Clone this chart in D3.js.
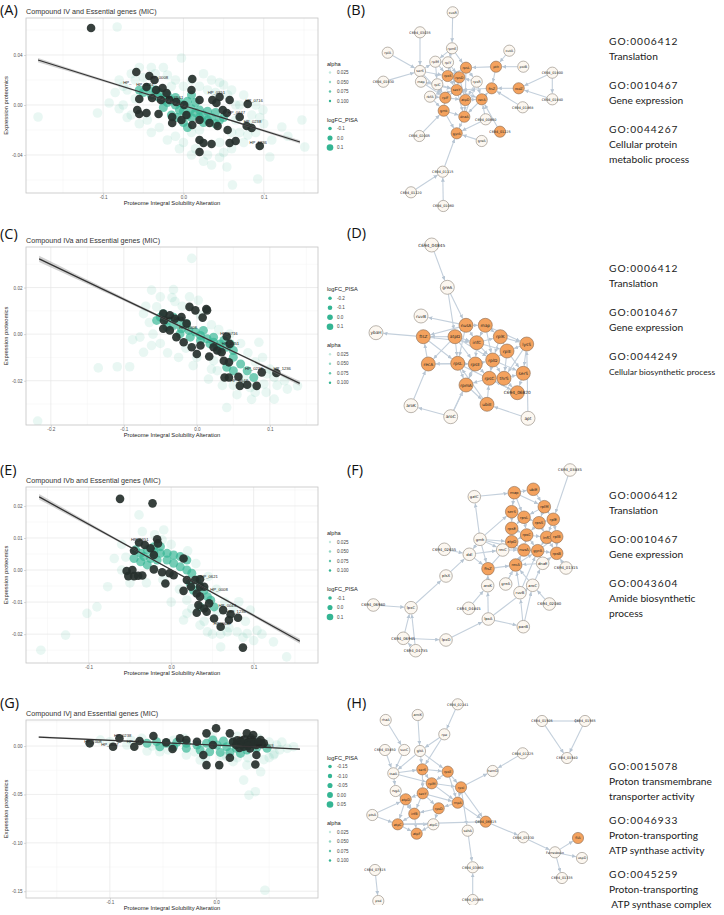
<!DOCTYPE html>
<html><head><meta charset="utf-8">
<script src="https://cdn.jsdelivr.net/npm/d3@7"></script>
<style>body{margin:0;background:#fff}svg{display:block}</style>
</head><body>
<svg id="c" width="724" height="915"></svg>
<script>
// ---------------- DATA ----------------
const titles = ["Compound IV and Essential genes (MIC)","Compound IVa and Essential genes (MIC)","Compound IVb and Essential genes (MIC)","Compound IVj and Essential genes (MIC)"];
const xAxisTitle = "Proteome Integral Solubility Alteration";
const yAxisTitle = "Expression proteomics";
const alphaVals = ["0.025","0.050","0.075","0.100"];

// Panel A
const aXTicks=[-0.1,0,0.1], aXLab=["-0.1","0.0","0.1"], aYTicks=[-0.04,0,0.04], aYLab=["-0.04","0.00","0.04"];
const aLogFC=["-0.1","0.0","0.1"];
const aFit=[[-0.181,0.036,0.0017],[0,-0.0004,0.0005],[0.145,-0.0296,0.0014]];
const aFaint=[[-0.0825,0.0624],[-0.181,-0.0096],[-0.107,-0.0064],[-0.0925,0.0016],[-0.0025,0.0376],[0.061,-0.064],[0.0925,-0.0592],[0.054,-0.0496],[0.1075,-0.0416],[0.1225,-0.0176],[0.099,-0.004],[0.1475,-0.012],[0.151,-0.0336],[0.08,-0.024],[0.065,-0.012],[0.07,0.0],[0.05,0.016],[0.035,0.02],[0.025,0.025],[-0.02,0.024],[-0.04,0.03],[-0.06,0.02],[-0.07,0.012],[-0.075,0.0],[-0.065,-0.008],[-0.045,-0.012],[-0.03,-0.018],[-0.01,-0.025],[0.0,-0.03],[0.015,-0.035],[0.03,-0.04],[0.045,-0.03],[0.06,-0.022],[0.075,-0.03],[0.09,-0.022],[0.11,-0.028],[0.13,-0.025],[0.04,0.01],[-0.05,0.022],[0.02,0.015],[0.055,0.008],[0.085,-0.008],[0.1,-0.015],[-0.015,0.015],[0.01,-0.022],[-0.085,0.01],[0.035,-0.048],[0.045,-0.042],
 [-0.08,0.02],[-0.075,0.015],[-0.065,0.025],[-0.055,0.03],[-0.035,0.025],[-0.025,0.03],[-0.01,0.02],[0.0,0.015],[0.01,0.02],[0.03,0.012],[0.045,0.018],[0.06,0.012],[0.075,0.008],[0.09,0.0],[0.095,-0.01],[0.08,-0.015],[0.07,-0.022],[0.06,-0.035],[0.05,-0.038],[0.025,-0.045],[0.01,-0.04],[-0.005,-0.035],[-0.02,-0.028],[-0.04,-0.022],[-0.055,-0.015],[-0.07,-0.01],[-0.08,-0.003],[-0.06,0.005],[0.065,0.0],[0.02,-0.02]];
const aCore=[[-0.055,0.012],[-0.05,0.01],[-0.045,0.014],[-0.04,0.008],[-0.035,0.012],[-0.03,0.006],[-0.03,0.01],[-0.025,0.004],[-0.02,0.008],[-0.02,0.002],[-0.015,0.004],[-0.01,0.0],[-0.01,0.006],[-0.005,0.002],[-0.005,-0.004],[0,0],[0,-0.005],[0.005,0.003],[0.005,-0.008],[0.01,-0.003],[0.01,-0.01],[0.015,-0.006],[0.015,0.002],[0.02,-0.01],[0.02,-0.004],[0.025,-0.008],[0.025,-0.014],[0.03,-0.005],[0.03,-0.012],[0.035,-0.01],[0.04,-0.006],[0.04,-0.015],[0.045,-0.012],[0.05,-0.01],[-0.008,-0.01],[0.0,-0.014],[0.005,-0.018],[-0.015,-0.008],[0.01,0.008],[-0.025,-0.002]];
const aDark=[[-0.115,0.0616],[-0.0587,0.0264],[-0.0425,0.0232],[-0.036,0.02],[0.011,0.0208],[-0.055,0.0048],[-0.0575,-0.004],[-0.055,-0.0072],[-0.046,-0.0064],[-0.031,-0.0072],[-0.014,-0.0144],[0.01,0.012],[0.02,0.004],[0.036,0.004],[0.045,0.0064],[0.0575,0.004],[0.08,0.0008],[0.07,-0.0096],[0.02,-0.012],[0.0325,-0.0144],[0.0425,-0.0168],[0.055,-0.02],[0.0787,-0.0168],[0.085,-0.0184],[0.02,-0.028],[0.025,-0.0304],[0.035,-0.0312],[0.02,-0.0376],[0.0575,-0.0304],[0.065,-0.0288],[0.095,-0.0328],[-0.046,0.0144],[-0.034,0.012],[-0.026,0.0136],[-0.021,0.0096],[-0.039,0.0056],[-0.028,0.004],[-0.0175,0.004],[-0.009,0.0024],[0.001,0],[0.0037,-0.008],[-0.014,-0.0096],[-0.0025,-0.012],[0.011,-0.016],[0.041,0.0016],[0.049,-0.004],[0.054,-0.0064]];
const aLabels=[["HP_0008",-0.03,0.021],["HP_",-0.07,0.0168],["HP_0124",-0.048,0.015],["HP_0351",0.041,0.0085],["HP_0716",0.088,0.0028],["HP_0647",0.066,-0.0068],["HP_0238",0.086,-0.0145],["HP_0561",-0.011,0.0045],["HP_1236",0.093,-0.031]];

// Panel C
const cXTicks=[-0.2,-0.1,0,0.1], cXLab=["-0.2","-0.1","0.0","0.1"], cYTicks=[-0.02,0,0.02], cYLab=["-0.02","0.00","0.02"];
const cLogFC=["-0.2","-0.1","0.0","0.1"];
const cFit=[[-0.216,0.0323,0.0013],[0,0.0,0.0003],[0.141,-0.0211,0.001]];
const cFaint=[[-0.007,0.0325],[-0.062,0.0189],[-0.032,0.0191],[-0.05,0.016],[-0.034,0.0157],[0.002,0.0145],[-0.135,-0.0145],[-0.109,-0.014],[-0.092,-0.014],[-0.088,-0.0024],[-0.078,-0.0013],[-0.073,-0.0078],[-0.062,-0.0049],[-0.005,-0.0135],[0.016,-0.0193],[0.041,-0.0315],[0.096,-0.0171],[0.085,-0.0035],[0.106,-0.0279],[0.124,-0.0236],[0.138,-0.0222],[0.106,-0.0186],[-0.218,-0.0373],[0.073,-0.0229],[0.06,-0.0214],[0.092,-0.0214],[0.028,-0.0157],[0.023,-0.0114],[-0.055,0.0117],[-0.073,0.0088],[0.065,-0.019],[0.05,-0.022],[0.08,-0.025],
 [-0.07,0.012],[-0.065,0.005],[-0.06,0.0],[-0.05,-0.004],[-0.04,-0.008],[-0.03,0.014],[-0.02,0.012],[-0.01,0.016],[0.005,0.008],[0.02,0.004],[0.03,0.002],[0.045,0.0],[0.06,-0.004],[0.07,-0.008],[0.08,-0.012],[0.09,-0.01],[0.1,-0.015],[0.11,-0.022],[0.12,-0.02],[0.095,-0.025],[0.075,-0.028],[0.055,-0.026],[0.035,-0.022],[0.02,-0.015],[0.0,-0.01],[-0.015,-0.006],[-0.025,-0.01]];
const cCore=[[-0.05,0.0073],[-0.041,0.0059],[-0.032,0.0073],[-0.023,0.0059],[-0.014,0.0045],[-0.041,0.003],[-0.032,0.0037],[-0.021,0.0023],[-0.011,0.0016],[-0.002,0.0009],[0.005,-0.0006],[0.014,-0.002],[0.023,-0.0035],[0.032,-0.0042],[0.041,-0.0056],[0.05,-0.007],[-0.023,0.0001],[-0.009,-0.0013],[0.005,-0.0027],[0.018,-0.0042],[0.028,-0.0056],[0.009,0.0016],[0.023,-0.0013],[0.037,-0.0027],[0.046,-0.0042],[0.05,-0.0099],[0.06,-0.0128],[0.069,-0.0157],[0.078,-0.0186],[0.05,-0.0157],[0.041,-0.0142],[0.032,-0.007],[-0.046,0.0088],[-0.055,0.0059]];
const cDark=[[-0.046,0.0088],[-0.045,0.0059],[-0.037,0.0081],[-0.03,0.0066],[-0.021,0.0073],[-0.01,0.0117],[-0.002,0.0102],[0.013,0.0108],[0.014,0.0102],[0.008,0.0071],[-0.046,0.0023],[-0.037,0.0016],[-0.028,-0.0013],[-0.018,-0.0035],[-0.007,-0.0056],[0.0,-0.0085],[0.017,-0.0096],[0.028,-0.007],[0.034,-0.0078],[0.041,-0.001],[0.045,-0.0042],[0.037,-0.0114],[0.044,-0.0121],[0.038,-0.0186],[0.044,-0.0186],[0.057,-0.0183],[0.059,-0.0222],[0.069,-0.0217],[0.082,-0.0222],[0.089,-0.0164],[0.109,-0.0167],[0.023,-0.0056],[0.005,-0.0049],[-0.014,0.0045]];
const cLabels=[["HP_0238",0.078,-0.0152],["HP_1236",0.117,-0.0154],["HP_0647",0.058,-0.0205],["HP_0351",0.046,-0.0045],["HP_0716",0.044,-0.0005],["HP_0003",-0.03,0.0062],["HP_1008",-0.012,0.0022]];

// Panel E
const eXTicks=[-0.1,0,0.1], eXLab=["-0.1","0.0","0.1"], eYTicks=[-0.02,-0.01,0,0.01,0.02], eYLab=["-0.02","-0.01","0.00","0.01","0.02"];
const eLogFC=["-0.1","0.0","0.1"];
const eFit=[[-0.16,0.0228,0.0009],[0,0.0001,0.0002],[0.156,-0.0222,0.0008]];
const eFaint=[[-0.039,0.0172],[-0.009,0.0125],[-0.011,0.0094],[-0.077,-0.0052],[-0.069,0.0036],[-0.09,-0.0115],[-0.102,-0.0135],[-0.128,-0.0203],[-0.158,-0.025],[0.015,-0.0156],[0.019,-0.0094],[0.044,-0.0193],[0.068,-0.0193],[0.08,-0.0193],[0.092,-0.0198],[0.104,-0.0188],[0.124,-0.0224],[0.14,-0.0271],[0.082,-0.0099],[0.096,-0.0125],[0.056,-0.013],[0.035,-0.0172],[0.019,-0.0135],[0.07,-0.018],[0.087,-0.021],[0.06,-0.02],
 [-0.06,0.008],[-0.055,0.004],[-0.06,0.0],[-0.05,-0.004],[-0.035,0.012],[-0.02,0.011],[0.0,0.008],[0.02,0.006],[0.03,0.002],[0.045,-0.002],[0.055,-0.006],[0.065,-0.01],[0.075,-0.012],[0.09,-0.016],[0.1,-0.022],[0.11,-0.02],[0.05,-0.02],[0.04,-0.016],[0.025,-0.012],[0.01,-0.006],[-0.01,-0.003],[-0.03,-0.004],[0.0,-0.01],[0.06,-0.024]];
const eCore=[[-0.043,0.0063],[-0.037,0.0052],[-0.029,0.0063],[-0.021,0.0057],[-0.013,0.0052],[-0.005,0.0052],[0.003,0.0047],[0.011,0.0042],[0.019,0.0031],[-0.005,0.0031],[0.003,0.0021],[0.011,0.001],[0.019,0.0],[0.025,-0.001],[0.031,-0.0031],[0.04,-0.0063],[0.044,-0.0083],[0.048,-0.0094],[0.052,-0.0115],[0.035,-0.0115],[-0.033,0.0042],[-0.025,0.0036],[-0.017,0.0031],[-0.037,0.0026],[-0.029,0.0016],[-0.021,0.0073],[-0.013,0.0073],[0.023,-0.0042],[0.027,-0.0063],[-0.045,0.0036],[0.035,-0.005]];
const eDark=[[-0.062,0.0222],[-0.0226,0.0208],[-0.039,0.0086],[-0.032,0.0078],[-0.017,0.0096],[-0.016,0.0083],[-0.025,0.0068],[-0.045,0.006],[-0.021,0.0047],[-0.054,-0.0003],[-0.047,0.0],[-0.052,-0.0019],[-0.045,-0.0019],[-0.04,-0.0018],[-0.035,-0.0017],[-0.021,0.0002],[-0.011,-0.0007],[-0.007,-0.0042],[-0.002,-0.001],[0.003,-0.0016],[0.015,0.0036],[0.019,-0.0031],[0.029,-0.0031],[0.035,-0.0029],[0.015,-0.0065],[0.024,-0.0052],[0.031,-0.0073],[0.035,-0.0052],[0.033,-0.0109],[0.04,-0.012],[0.031,-0.0133],[0.043,-0.013],[0.052,-0.0151],[0.06,-0.0177],[0.063,-0.0125],[0.072,-0.0138],[0.07,-0.0156],[0.081,-0.0149],[0.087,-0.0242],[0.04,-0.0052],[0.035,-0.0083],[0.046,-0.0104]];
const eLabels=[["HP_0621",0.046,-0.0026],["HP_0008",0.058,-0.0064],["HP_1236",0.08,-0.0135],["HP_0043",0.068,-0.0115],["HP_0351",-0.038,0.0092],["HP_0647",0.062,-0.017]];

// Panel G
const gXTicks=[-0.1,0], gXLab=["-0.1","0.0"], gYTicks=[-0.15,-0.1,-0.05,0], gYLab=["-0.15","-0.10","-0.05","0.00"];
const gLogFC=["-0.15","-0.10","-0.05","0.00","0.05"];
const gFit=[[-0.167,0.0093,0.001],[0,0.001,0.0003],[0.079,-0.0031,0.0008]];
const gFaint=[[0.026,-0.0352],[0.031,-0.0507],[0.037,-0.0472],[0.046,-0.149],[0.057,0.001],[0.067,-0.0024],[0.073,-0.0007],[-0.065,-0.0052],[-0.053,-0.0059],[-0.084,0.001],[-0.028,-0.0093],[0.016,-0.0162],[0.029,-0.0197],[-0.015,-0.0145],[0.01,-0.011],[0.054,-0.0093],[0.042,-0.0266],[-0.1,0.0045],[-0.109,0.0062],[0.062,0.004],[0.05,-0.012],
 [-0.08,0.006],[-0.07,0.008],[-0.06,0.0],[-0.045,-0.004],[-0.03,0.008],[-0.02,-0.006],[-0.005,0.01],[0.005,-0.01],[0.02,0.01],[0.03,-0.012],[0.04,0.008],[0.05,0.004],[0.06,-0.004],[0.055,-0.008],[0.045,-0.014],[0.02,-0.012],[-0.01,-0.012],[-0.04,0.006]];
const gCore=[[-0.065,0.0028],[-0.056,0.0045],[-0.047,0.0028],[-0.037,0.0038],[-0.028,0.0028],[-0.018,0.001],[-0.009,0.0028],[0.001,0.001],[0.01,-0.0007],[0.019,-0.0024],[0.029,-0.0041],[0.038,-0.0024],[0.048,-0.0024],[-0.015,-0.0041],[-0.006,-0.0059],[0.004,-0.0066],[0.013,-0.0066],[0.023,-0.0076],[-0.028,-0.0024],[-0.04,-0.0007],[-0.003,0.0062],[0.007,0.0052],[0.016,0.0038],[-0.053,-0.0007]];
const gDark=[[-0.119,0.0028],[-0.097,-0.0007],[-0.091,0.0079],[-0.077,-0.0007],[-0.072,0.0052],[-0.059,0.0103],[-0.047,0.0038],[-0.041,-0.0031],[-0.034,0.0079],[-0.009,0.0131],[0.0,0.0183],[-0.012,-0.0093],[-0.009,-0.0197],[0.003,-0.0197],[0.013,-0.0121],[0.037,-0.019],[0.038,-0.0093],[0.013,0.0131],[0.029,0.0131],[0.016,0.0045],[0.023,0.0052],[0.029,0.0028],[0.035,0.0045],[0.038,0.001],[0.042,0.0062],[0.026,-0.0007],[0.032,-0.0024],[0.019,0.001],[0.035,0.0114],[0.045,0.0028],[-0.018,0.0045],[-0.028,0.0062],[-0.003,0.001],
 [0.02,0.006],[0.024,0.002],[0.027,0.007],[0.031,0.004],[0.033,0.008],[0.036,0.002],[0.04,0.004],[0.043,0.002],[0.03,0.0],[0.022,-0.002]];
const gLabels=[["HP_1008",-0.116,0.0035],["HP_0238",-0.088,0.009],["HP_0716",-0.076,0.0035],["HP_0647",-0.1,0.0005],["HP_0351",0.03,0.0075],["HP_0003",0.046,-0.001]];

// Networks: [name, layoutX, layoutY, essential(1)/other(0)]
const bNodes=[["cusR",92.7,12.3,0],["C694_03035",60,32.3,0],["rplA",27.7,52.7,0],["rpmE",92,48.3,0],["rplM",75.3,61.7,0],["rplY",88,62.3,0],["serS",60,71,0],["C694_01830",23.3,81.7,0],["map",61,81.7,0],["rplC",77.3,84.3,0],["rbfA",70,96.7,0],["rpsR",116.7,81.7,0],["cutA",149.3,50.7,0],["pstB",163.3,66.7,0],["C694_01800",192.3,72.7,0],["C694_01840",192.3,99.3,0],["C694_01868",162.7,107.3,0],["C694_00660",125.7,119.3,0],["greA",121.7,141,0],["C694_02005",59.3,136,0],["C694_01115",82.7,171.7,0],["C694_01120",51,192.3,0],["C694_01060",83.3,206,0],["rpsL",106,67.7,1],["rpsS",87.7,76,1],["rpsD",99.3,77.3,1],["secY",96.7,90,1],["rplF",85.3,97.7,1],["atpD",105.3,100,1],["recA",121.7,99.3,1],["gmk",83.7,110.7,1],["dnaA",104.3,116.7,1],["gyrA",96.7,133.3,1],["pth",136,66.7,1],["ftsZ",131.7,88.3,1],["rodZ",158.7,88.3,1],["C694_01225",140,131.7,1]];
const bEdges=[["cusR","rpmE"],["C694_03035","serS"],["rplA","serS"],["C694_01830","serS"],["serS","rplM"],["serS","map"],["serS","rpsS"],["serS","rplF"],["rpmE","rplM"],["rpmE","rpsL"],["rpmE","rplY"],["rpmE","rpsS"],["rplM","rplY"],["rplM","rpsS"],["rplM","rplC"],["rplY","rpsD"],["rplY","secY"],["map","rplC"],["map","secY"],["rplC","rpsS"],["rplC","rplF"],["rbfA","rplF"],["rbfA","secY"],["rpsL","rpsD"],["rpsL","rpsS"],["rpsL","rpsR"],["rpsL","atpD"],["rpsS","rpsD"],["rpsS","secY"],["rpsD","secY"],["rpsD","atpD"],["secY","rplF"],["secY","atpD"],["secY","dnaA"],["secY","recA"],["rplF","gmk"],["rplF","atpD"],["atpD","recA"],["atpD","dnaA"],["recA","dnaA"],["recA","ftsZ"],["rpsR","atpD"],["rpsR","recA"],["gmk","dnaA"],["dnaA","gyrA"],["gmk","gyrA"],["pth","ftsZ"],["pth","rpsL"],["cutA","pth"],["pstB","pth"],["rodZ","ftsZ"],["ftsZ","secY"],["C694_01868","ftsZ"],["C694_01800","rodZ"],["C694_01840","rodZ"],["C694_01800","C694_01840"],["C694_00660","recA"],["C694_00660","gyrA"],["C694_01225","recA"],["greA","gyrA"],["C694_02005","gmk"],["C694_01115","gyrA"],["C694_01120","C694_01115"],["C694_01060","C694_01115"],["rpsR","rpsD"],["map","rplF"],["rplC","secY"],["rbfA","gmk"],["dnaA","rpsR"]];

const dNodes=[["C694_04845",71.7,35,0],["greA",87.3,77.3,0],["ruvB",61,106,0],["ybaH",16,122.7,0],["ftsZ",63.3,126.7,1],["nusA",106,115.3,1],["map",125.3,115.3,1],["atpD",95,126.7,1],["infC",116.7,132.7,1],["rplK",140.3,126.7,1],["lysS",166.7,134,1],["rplE",147,141,1],["recA",68.3,154,1],["rpsL",97.7,153.3,1],["rpsE",115.3,154,1],["rplD",132.7,150,1],["rpsC",129.3,168.3,1],["thrS",144,168.3,1],["serS",163.3,163.3,1],["rpmA",106,175,1],["C694_06820",157.3,182.7,1],["ubiE",127,194.3,1],["aroK",51,195.7,0],["aroC",90.7,206.7,0],["apt",168,208.3,0]];
const dEdges=[["C694_04845","greA"],["greA","nusA"],["greA","atpD"],["nusA","ruvB"],["ftsZ","ybaH"],["atpD","ftsZ"],["nusA","ftsZ"],["recA","ftsZ"],["atpD","recA"],["rpsL","recA"],["aroK","recA"],["aroC","aroK"],["aroC","rpmA"],["aroC","rpsE"],["apt","ubiE"],["apt","lysS"],["C694_06820","rpsC"],["ubiE","rpsC"],["ubiE","rpsL"],["nusA","atpD"],["nusA","map"],["nusA","infC"],["nusA","rpsL"],["map","rplK"],["map","infC"],["map","rplD"],["atpD","infC"],["atpD","rpsL"],["atpD","rpsE"],["atpD","rplD"],["infC","rplK"],["infC","rpsE"],["infC","rplD"],["infC","rplE"],["rplK","rplE"],["rplK","lysS"],["rplK","rplD"],["lysS","rplE"],["lysS","serS"],["lysS","thrS"],["rplE","rplD"],["rplE","thrS"],["rplE","serS"],["rpsL","rpsE"],["rpsL","rpmA"],["rpsE","rplD"],["rpsE","rpsC"],["rpsE","rpmA"],["rplD","rpsC"],["rplD","thrS"],["rpsC","thrS"],["rpsC","rpmA"],["thrS","serS"],["thrS","C694_06820"],["serS","C694_06820"],["rpmA","ubiE"],["ftsZ","rpsL"],["recA","rpsE"],["map","lysS"],["rplD","serS"],["ftsZ","infC"],["rpsL","C694_06820"]];

const fNodes=[["gatC",114.3,56.7,0],["map",154.3,52.7,1],["ubiE",173.3,49.3,1],["rplM",184.3,66.7,1],["serS",151.7,71.7,1],["rpsL",164,77.3,1],["rpsS",179,82.7,1],["rplE",193.3,79.3,1],["rpsE",151.7,88.3,1],["rpsC",166.7,95,1],["infC",186.7,97.3,1],["rplB",196.7,96.7,1],["atpD",151.7,101.7,1],["nusA",164,110,1],["gyrA",177.7,110.7,1],["rpsB",196.7,113.3,1],["gmk",120,99.3,0],["recC",142.7,110,0],["C694_02655",84.3,109.3,0],["ddl",109.3,114.3,0],["ftsZ",128,128.7,1],["recA",155.7,125,1],["dnaE",182.7,123.3,0],["plsX",86,136,0],["aroK",127.7,145.7,0],["greA",145.7,144,0],["ruvB",160,152.7,0],["aroC",172.7,145.3,0],["C694_04845",108.7,168.3,0],["C694_02080",189.3,164,0],["lpxC",51,167.7,0],["C694_06960",13.3,165,0],["lpxA",128.3,179,0],["panB",163.3,186.7,0],["C694_06945",43.3,198.3,0],["lpxD",86,200,0],["C694_04735",55.7,210.7,0],["C694_03835",210,30,0],["C694_01315",206,128,0]];
const fEdges=[["gatC","map"],["gmk","gatC"],["C694_03835","rplE"],["map","ubiE"],["map","serS"],["map","rpsL"],["map","rplM"],["ubiE","rplM"],["rplM","rpsL"],["rplM","rpsS"],["rplM","rplE"],["serS","rpsL"],["serS","rpsE"],["rpsL","rpsS"],["rpsL","rpsE"],["rpsL","rpsC"],["rpsS","rplE"],["rpsS","rpsC"],["rpsS","infC"],["rplE","infC"],["rplE","rplB"],["rpsE","atpD"],["rpsE","rpsC"],["rpsC","infC"],["rpsC","atpD"],["rpsC","nusA"],["rpsC","gyrA"],["infC","rplB"],["infC","gyrA"],["infC","rpsB"],["rplB","rpsB"],["atpD","nusA"],["nusA","gyrA"],["gyrA","rpsB"],["gmk","serS"],["gmk","atpD"],["gmk","recC"],["gmk","ddl"],["gmk","ftsZ"],["recC","atpD"],["recC","nusA"],["C694_02655","ddl"],["ddl","ftsZ"],["ddl","recC"],["ftsZ","recA"],["ftsZ","atpD"],["recA","nusA"],["recA","gyrA"],["dnaE","gyrA"],["dnaE","recA"],["dnaE","rpsB"],["plsX","ddl"],["aroK","ftsZ"],["greA","recA"],["greA","nusA"],["ruvB","recA"],["ruvB","gyrA"],["aroC","dnaE"],["aroC","ruvB"],["aroC","recA"],["C694_02080","aroC"],["C694_01315","rpsB"],["C694_04845","aroK"],["lpxA","aroK"],["lpxA","aroC"],["lpxA","panB"],["panB","ruvB"],["panB","aroC"],["lpxC","plsX"],["C694_06960","lpxC"],["C694_06945","lpxC"],["C694_04735","lpxC"],["C694_06945","lpxD"],["lpxD","lpxA"],["C694_04735","C694_06945"],["gmk","nusA"],["gyrA","rplB"]];

const hNodes=[["C694_02141",97.7,39.3,0],["rhaA",25.7,55,0],["amiK",57.7,50,0],["rpe",84.3,69.3,0],["C694_03450",25,85,0],["sucC",44.3,85,0],["gltA",60,86,0],["C694_01225",162.7,88.3,0],["C694_01505",182,56,0],["C694_01565",225,56,0],["C694_01540",207,93,0],["tsaA",33.3,108.3,0],["serS",62.3,104.3,1],["rpsE",87.7,106.7,1],["hemD",132.7,106,0],["rplM",71.7,118.3,1],["rpsI",101,122.3,1],["secY",62.7,128.3,1],["rsgA",35.7,126,0],["atpD",45.7,134.3,1],["rnpA",97.7,137.7,1],["rpsD",78.7,143.3,1],["infB",54.3,148.7,1],["ptsA",12.3,150,0],["atpC",37.7,159.3,1],["atpG",73.3,159.3,0],["atpF",56.7,168.7,1],["C694_06615",125.7,156.7,1],["sdhA",107.7,165.7,0],["C694_03330",163.3,172.3,0],["Ferredoxin",195,187.3,0],["fliA",218,173,1],["uspD",222,193,0],["C694_01335",202,213,0],["C694_03860",112.7,202.3,0],["C694_03865",112.7,235,0],["C694_07515",15,205,0],["psd",18.3,236,0]];
const hEdges=[["C694_02141","rpe"],["amiK","gltA"],["rhaA","sucC"],["rpe","gltA"],["rpe","serS"],["C694_03450","tsaA"],["sucC","tsaA"],["gltA","serS"],["gltA","rpsE"],["gltA","tsaA"],["tsaA","serS"],["tsaA","rplM"],["tsaA","rsgA"],["serS","rpsE"],["serS","rplM"],["serS","secY"],["rpsE","rpsI"],["rpsE","rplM"],["rplM","secY"],["rplM","rpsI"],["rplM","rnpA"],["rpsI","rnpA"],["rpsI","hemD"],["C694_01225","hemD"],["secY","atpD"],["secY","rpsD"],["secY","infB"],["rsgA","atpD"],["rsgA","infB"],["atpD","infB"],["atpD","atpC"],["rnpA","rpsD"],["rnpA","C694_06615"],["rpsD","infB"],["rpsD","atpG"],["infB","atpC"],["infB","atpF"],["atpC","atpF"],["atpC","atpG"],["atpG","atpF"],["ptsA","atpC"],["ptsA","atpD"],["rpsI","sdhA"],["C694_06615","C694_03330"],["C694_03330","Ferredoxin"],["Ferredoxin","fliA"],["Ferredoxin","uspD"],["Ferredoxin","C694_01335"],["sdhA","C694_03860"],["C694_03865","C694_03860"],["C694_07515","psd"],["C694_01505","C694_01565"],["C694_01505","C694_01540"],["C694_01565","C694_01540"],["rpsE","rnpA"],["secY","rnpA"],["atpC","C694_06615"],["rpsI","C694_06615"]];

// GO annotation text blocks (each block = groups of lines)
const goB=[["GO:0006412","Translation"],["GO:0010467","Gene expression"],["GO:0044267","Cellular protein","metabolic process"]];
const goD=[["GO:0006412","Translation"],["GO:0010467","Gene expression"],["GO:0044249","Cellular biosynthetic process"]];
const goF=[["GO:0006412","Translation"],["GO:0010467","Gene expression"],["GO:0043604","Amide biosynthetic","process"]];
const goH=[["GO:0015078","Proton transmembrane","transporter activity"],["GO:0046933","Proton-transporting","ATP synthase activity"],["GO:0045259","Proton-transporting"," ATP synthase complex"]];

// ---------------- DRAWING ----------------
const svg=d3.select("#c");
const defs=svg.append("defs");
defs.append("marker").attr("id","arr").attr("viewBox","0 0 10 10").attr("refX",10).attr("refY",5)
  .attr("markerWidth",4).attr("markerHeight",4).attr("markerUnits","userSpaceOnUse").attr("orient","auto")
  .append("path").attr("d","M0,0L10,5L0,10z").attr("fill","#b7c5d3");

const TEAL="#34b593", DARK="#26302d";
const sansGG="'Liberation Sans', Arial, sans-serif";

function drawScatter(p){
  const [L,R,T,B]=p.box;
  const x=d3.scaleLinear().domain(p.xDom).range([L,R]);
  const y=d3.scaleLinear().domain(p.yDom).range([B,T]);
  const g=svg.append("g");
  g.append("text").attr("x",0).attr("y",p.letterY).text(p.letter)
    .attr("font-family","'Open Sans',sans-serif").attr("font-size",14.5).attr("fill","#111");
  g.append("text").attr("x",L).attr("y",T-4).text(p.title).attr("font-family",sansGG).attr("font-size",7.2).attr("fill","#333");
  const minorX=[], minorY=[];
  const xs=p.xTicks, ys=p.yTicks;
  const dx=xs.length>1?xs[1]-xs[0]:0.1, dy=ys[1]-ys[0];
  for(let v=xs[0]-dx/2; v<=p.xDom[1]; v+=dx) if(v>=p.xDom[0]) minorX.push(v);
  for(let v=ys[0]-dy/2; v<=p.yDom[1]; v+=dy) if(v>=p.yDom[0]) minorY.push(v);
  g.selectAll(".mx").data(minorX).join("line").attr("x1",d=>x(d)).attr("x2",d=>x(d)).attr("y1",T).attr("y2",B).attr("stroke","#f2f2f2").attr("stroke-width",0.5);
  g.selectAll(".my").data(minorY).join("line").attr("y1",d=>y(d)).attr("y2",d=>y(d)).attr("x1",L).attr("x2",R).attr("stroke","#f2f2f2").attr("stroke-width",0.5);
  g.selectAll(".gx").data(xs).join("line").attr("x1",d=>x(d)).attr("x2",d=>x(d)).attr("y1",T).attr("y2",B).attr("stroke","#e6e6e6").attr("stroke-width",0.7);
  g.selectAll(".gy").data(ys).join("line").attr("y1",d=>y(d)).attr("y2",d=>y(d)).attr("x1",L).attr("x2",R).attr("stroke","#e6e6e6").attr("stroke-width",0.7);
  const cid="clip"+p.id;
  defs.append("clipPath").attr("id",cid).append("rect").attr("x",L).attr("y",T).attr("width",R-L).attr("height",B-T);
  const pg=g.append("g").attr("clip-path",`url(#${cid})`);
  pg.append("g").selectAll("circle").data(p.faint).join("circle").attr("cx",d=>x(d[0])).attr("cy",d=>y(d[1])).attr("r",4.8).attr("fill",TEAL).attr("fill-opacity",0.11);
  pg.append("g").selectAll("circle").data(p.core).join("circle").attr("cx",d=>x(d[0])).attr("cy",d=>y(d[1])).attr("r",4.5).attr("fill",TEAL).attr("fill-opacity",0.68);
  pg.append("g").selectAll("circle").data(p.dark).join("circle").attr("cx",d=>x(d[0])).attr("cy",d=>y(d[1])).attr("r",4.3).attr("fill",DARK).attr("fill-opacity",0.92);
  const area=d3.area().x(d=>x(d[0])).y0(d=>y(d[1]-d[2])).y1(d=>y(d[1]+d[2])).curve(d3.curveNatural);
  pg.append("path").datum(p.fit).attr("d",area).attr("fill","#9a9a9a").attr("fill-opacity",0.45);
  pg.append("path").datum(p.fit).attr("d",d3.line().x(d=>x(d[0])).y(d=>y(d[1]))).attr("stroke","#333").attr("stroke-width",1.3).attr("fill","none");
  pg.append("g").selectAll("text").data(p.labels).join("text").attr("x",d=>x(d[1])).attr("y",d=>y(d[2])).text(d=>d[0])
    .attr("text-anchor","middle").attr("font-family",sansGG).attr("font-size",4.2).attr("fill","#222");
  g.append("rect").attr("x",L).attr("y",T).attr("width",R-L).attr("height",B-T).attr("fill","none").attr("stroke","#c4c4c4").attr("stroke-width",0.8);
  const ax=d3.axisBottom(x).tickValues(xs).tickFormat((d,i)=>p.xLab[i]).tickSize(2).tickPadding(1.2);
  const ay=d3.axisLeft(y).tickValues(ys).tickFormat((d,i)=>p.yLab[i]).tickSize(2).tickPadding(1.5);
  const gx=g.append("g").attr("transform",`translate(0,${B})`).call(ax);
  const gy=g.append("g").attr("transform",`translate(${L},0)`).call(ay);
  [gx,gy].forEach(a=>{a.select(".domain").remove();a.selectAll("line").attr("stroke","#b3b3b3").attr("stroke-width",0.5);
    a.selectAll("text").attr("font-family",sansGG).attr("font-size",4.6).attr("fill","#555");});
  g.append("text").attr("x",(L+R)/2).attr("y",B+12).attr("text-anchor","middle").text(xAxisTitle).attr("font-family",sansGG).attr("font-size",5.8).attr("fill","#222");
  g.append("text").attr("transform",`translate(${L-18},${(T+B)/2}) rotate(-90)`).attr("text-anchor","middle").text(yAxisTitle).attr("font-family",sansGG).attr("font-size",5.8).attr("fill","#222");
  const lx=R+9;
  const blocks=p.legendOrder.map(k=>k==="alpha"?{title:"alpha",vals:alphaVals,type:"a"}:{title:"logFC_PISA",vals:p.logfc,type:"s"});
  const total=blocks.reduce((s,b)=>s+9+(b.vals.length-1)*9.5,0)+18.5*(blocks.length-1);
  let yy=(T+B)/2-total/2;
  const lg=g.append("g");
  blocks.forEach(b=>{
    lg.append("text").attr("x",lx).attr("y",yy+2).text(b.title).attr("font-family",sansGG).attr("font-size",5.6).attr("fill","#222");
    const rs=d3.scaleLinear().domain([0,b.vals.length-1]).range([1.8,3.3]);
    const op=d3.scaleLinear().domain([0,b.vals.length-1]).range([0.3,1]);
    const kk=lg.append("g").selectAll("g").data(b.vals).join("g").attr("transform",(d,i)=>`translate(${lx+3},${yy+9+i*9.5})`);
    kk.append("circle").attr("r",(d,i)=>b.type==="a"?1.2:rs(i)).attr("fill",TEAL).attr("fill-opacity",(d,i)=>b.type==="a"?op(i):1);
    kk.append("text").attr("x",7).attr("y",1.6).text(d=>d).attr("font-family",sansGG).attr("font-size",4.6).attr("fill","#444");
    yy+=9+(b.vals.length-1)*9.5+18.5;
  });
}

function drawNet(n){
  const g=svg.append("g");
  const sx=d3.scaleLinear().domain([0,200]).range([n.ox,n.ox+200]);
  const sy=d3.scaleLinear().domain([0,200]).range([n.oy,n.oy+200]);
  g.append("text").attr("x",347).attr("y",n.letterY).text(n.letter).attr("font-family","'Open Sans',sans-serif").attr("font-size",14.5).attr("fill","#111");
  const m=new Map(n.nodes.map(d=>[d[0],d]));
  const cid="nclip"+n.letter[1];
  defs.append("clipPath").attr("id",cid).append("rect").attr("x",356).attr("y",n.oy-30).attr("width",250).attr("height",270);
  const ng=g.append("g").attr("clip-path",`url(#${cid})`);
  ng.append("g").selectAll("line").data(n.edges).join("line")
    .each(function(e){
      const a=m.get(e[0]), b=m.get(e[1]);
      const x1=sx(a[1]),y1=sy(a[2]),x2=sx(b[1]),y2=sy(b[2]);
      const len=Math.hypot(x2-x1,y2-y1)||1, ux=(x2-x1)/len, uy=(y2-y1)/len;
      d3.select(this).attr("x1",x1+ux*n.r).attr("y1",y1+uy*n.r).attr("x2",x2-ux*(n.r+0.5)).attr("y2",y2-uy*(n.r+0.5));
    })
    .attr("stroke","#c4d0dc").attr("stroke-width",1.1).attr("marker-end","url(#arr)");
  const nd=ng.append("g").selectAll("g").data(n.nodes).join("g").attr("transform",d=>`translate(${sx(d[1])},${sy(d[2])})`);
  nd.append("circle").attr("r",n.r).attr("fill",d=>d[3]?"#f4a25e":"#fcf7f0").attr("stroke",d=>d[3]?"#8a6a50":"#8d847b").attr("stroke-width",0.6);
  nd.append("text").text(d=>d[0]).attr("text-anchor","middle").attr("y",n.fs*0.35).attr("font-family","'DejaVu Sans',sans-serif").attr("font-size",n.fs).attr("fill","#222");
}

function drawGO(blocks,startY,lineH,groupGap){
  let yy=startY;
  const g=svg.append("g");
  const maxW=106;
  blocks.forEach(grp=>{
    grp.forEach((t,i)=>{
      const tx=g.append("text").attr("x",609).attr("y",yy).text(t).attr("xml:space","preserve").style("white-space","pre")
        .attr("font-family","Lato,'Open Sans',sans-serif").attr("font-size",10.2).attr("letter-spacing",i===0?1:0).attr("fill","#222");
      const w=tx.node().getComputedTextLength();
      if(w>maxW) tx.attr("font-size",10.2*maxW/w);
      yy+=lineH;
    });
    yy+=groupGap-lineH;
  });
}

drawScatter({id:"A",letter:"(A)",letterY:15,title:titles[0],box:[26,318,18,193],xDom:[-0.196,0.1675],yDom:[-0.0704,0.0696],
  xTicks:aXTicks,xLab:aXLab,yTicks:aYTicks,yLab:aYLab,faint:aFaint,core:aCore,dark:aDark,labels:aLabels,fit:aFit,logfc:aLogFC,legendOrder:["alpha","logfc"]});
drawScatter({id:"C",letter:"(C)",letterY:239,title:titles[1],box:[26,318,247,425],xDom:[-0.234,0.166],yDom:[-0.039,0.0374],
  xTicks:cXTicks,xLab:cXLab,yTicks:cYTicks,yLab:cYLab,faint:cFaint,core:cCore,dark:cDark,labels:cLabels,fit:cFit,logfc:cLogFC,legendOrder:["logfc","alpha"]});
drawScatter({id:"E",letter:"(E)",letterY:475,title:titles[2],box:[26,318,487,663],xDom:[-0.176,0.178],yDom:[-0.029,0.0259],
  xTicks:eXTicks,xLab:eXLab,yTicks:eYTicks,yLab:eYLab,faint:eFaint,core:eCore,dark:eDark,labels:eLabels,fit:eFit,logfc:eLogFC,legendOrder:["alpha","logfc"]});
drawScatter({id:"G",letter:"(G)",letterY:708,title:titles[3],box:[26,318,720,898],xDom:[-0.179,0.096],yDom:[-0.157,0.0269],
  xTicks:gXTicks,xLab:gXLab,yTicks:gYTicks,yLab:gYLab,faint:gFaint,core:gCore,dark:gDark,labels:gLabels,fit:gFit,logfc:gLogFC,legendOrder:["logfc","alpha"]});

drawNet({letter:"(B)",letterY:15,ox:360,oy:0,r:5.6,fs:3.4,nodes:bNodes,edges:bEdges});
drawNet({letter:"(D)",letterY:238,ox:360,oy:210,r:7,fs:4.3,nodes:dNodes,edges:dEdges});
drawNet({letter:"(F)",letterY:475,ox:360,oy:440,r:6.3,fs:3.8,nodes:fNodes,edges:fEdges});
drawNet({letter:"(H)",letterY:708,ox:360,oy:665,r:5.6,fs:3.4,nodes:hNodes,edges:hEdges});

drawGO(goB,45,15,29);
drawGO(goD,272,15,29);
drawGO(goF,499,15,29);
drawGO(goH,770,15,24);
</script>
</body></html>
